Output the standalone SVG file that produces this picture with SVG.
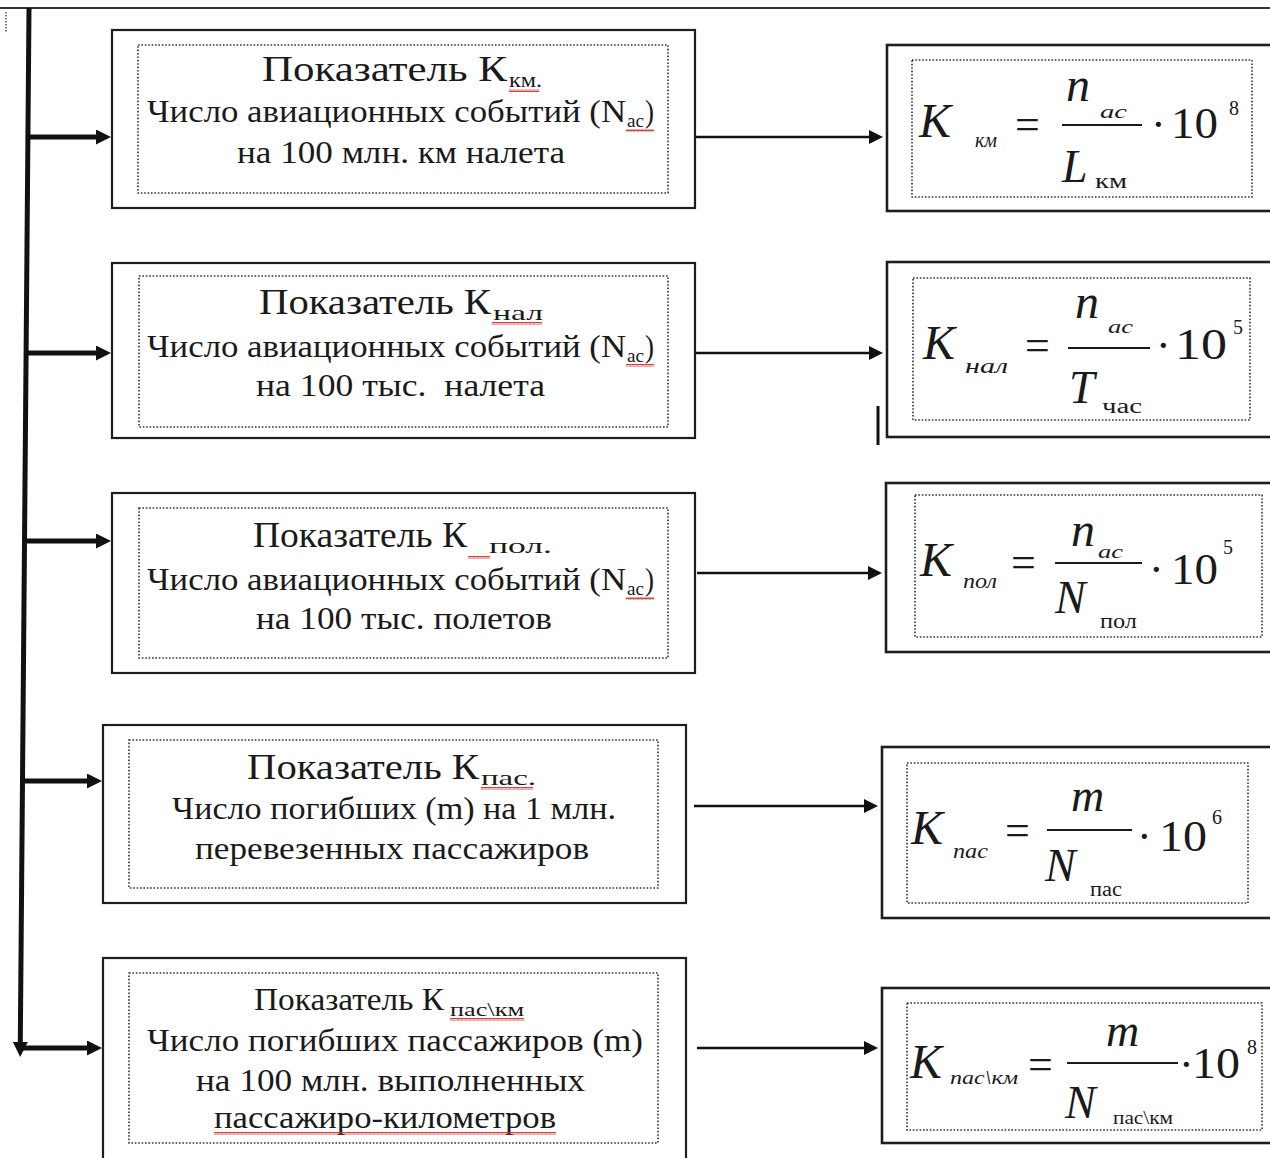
<svg xmlns="http://www.w3.org/2000/svg" width="1270" height="1158" viewBox="0 0 1270 1158">
<style>
text{font-family:"Liberation Serif","Times New Roman",serif;fill:#1a1a1a}
.t{font-size:36px}
.b{font-size:32px}
.s{font-size:21px}
.bx{fill:#fff;stroke:#1e1e1e;stroke-width:2.2}
.fb{fill:#fff;stroke:#1e1e1e;stroke-width:2.6}
.dt{fill:none;stroke:#333;stroke-width:1.6;stroke-dasharray:1.6 1.8}
.i{font-style:italic}
.fK{font-size:48px;font-style:italic}
.fn{font-size:48px;font-style:italic}
.fs{font-size:20px}
.fo{font-size:44px}
.fp{font-size:20px}
.bar{stroke:#1a1a1a;stroke-width:2}
.thick{stroke:#111;stroke-width:5;fill:none}
.thin{stroke:#111;stroke-width:2.5;fill:none}
</style>
<defs>
<marker id="ah" viewBox="0 0 10 10" refX="0" refY="5" markerUnits="userSpaceOnUse" markerWidth="16" markerHeight="15" orient="auto"><path d="M0,0 L10,5 L0,10 z" fill="#111"/></marker>
<marker id="ahs" viewBox="0 0 10 10" refX="0" refY="5" markerUnits="userSpaceOnUse" markerWidth="18" markerHeight="14" orient="auto"><path d="M0,0 L10,5 L0,10 z" fill="#111"/></marker>
<pattern id="wv" width="4" height="3" patternUnits="userSpaceOnUse"><path d="M0,2.5 L1,0.5 L2,2.5 L3,0.5 L4,2.5" fill="none" stroke="#d02a2a" stroke-width="0.9"/></pattern>
</defs>
<rect width="1270" height="1158" fill="#fff"/>
<line x1="0" y1="8" x2="1270" y2="8" stroke="#333" stroke-width="2"/>
<line x1="6" y1="12" x2="6" y2="32" stroke="#555" stroke-width="1.5" stroke-dasharray="1.5 1.5"/>
<line x1="878" y1="406" x2="878" y2="445" stroke="#111" stroke-width="3"/>

<g id="connectors">
<line class="thick" x1="29" y1="8" x2="20.3" y2="1042" marker-end="url(#ah)"/>
<line class="thick" x1="28" y1="137" x2="96" y2="137" marker-end="url(#ah)"/>
<line class="thick" x1="26" y1="353" x2="96" y2="353" marker-end="url(#ah)"/>
<line class="thick" x1="24.5" y1="541" x2="96" y2="541" marker-end="url(#ah)"/>
<line class="thick" x1="22.3" y1="781" x2="87" y2="781" marker-end="url(#ah)"/>
<line class="thick" x1="20" y1="1048" x2="87" y2="1048" marker-end="url(#ah)"/>
<line class="thin" x1="695" y1="137" x2="869" y2="137" marker-end="url(#ahs)"/>
<line class="thin" x1="696" y1="353" x2="869" y2="353" marker-end="url(#ahs)"/>
<line class="thin" x1="697" y1="573" x2="868" y2="573" marker-end="url(#ahs)"/>
<line class="thin" x1="694" y1="806" x2="864" y2="806" marker-end="url(#ahs)"/>
<line class="thin" x1="697" y1="1048" x2="864" y2="1048" marker-end="url(#ahs)"/>
</g>

<g id="node-kkm">
<rect class="bx" x="112" y="30" width="583" height="178"/>
<rect class="dt" x="138" y="45" width="530" height="148"/>
<text class="t" x="262" y="81" textLength="245" lengthAdjust="spacingAndGlyphs">Показатель К</text>
<text class="s" x="509" y="87" textLength="33" lengthAdjust="spacingAndGlyphs">км.</text>
<rect x="509" y="89" width="30" height="3" fill="url(#wv)"/>
<text class="b" x="147" y="122" textLength="479" lengthAdjust="spacingAndGlyphs">Число авиационных событий (N</text>
<text class="s" x="627" y="127" style="font-size:18px" textLength="17" lengthAdjust="spacingAndGlyphs">ас</text>
<text class="b" x="645" y="122" textLength="9" lengthAdjust="spacingAndGlyphs">)</text>
<rect x="626" y="129" width="28" height="3" fill="url(#wv)"/>
<text class="b" x="237" y="163" textLength="328" lengthAdjust="spacingAndGlyphs">на 100 млн. км налета</text>
</g>

<g id="node-knal">
<rect class="bx" x="112" y="263" width="583" height="175"/>
<rect class="dt" x="139" y="276" width="529" height="151"/>
<text class="t" x="259" y="314" textLength="232" lengthAdjust="spacingAndGlyphs">Показатель К</text>
<text class="s" x="493" y="320" textLength="50" lengthAdjust="spacingAndGlyphs">нал</text>
<rect x="492" y="322" width="50" height="3" fill="url(#wv)"/>
<text class="b" x="147" y="357" textLength="479" lengthAdjust="spacingAndGlyphs">Число авиационных событий (N</text>
<text class="s" x="627" y="362" style="font-size:18px" textLength="17" lengthAdjust="spacingAndGlyphs">ас</text>
<text class="b" x="645" y="357" textLength="9" lengthAdjust="spacingAndGlyphs">)</text>
<rect x="626" y="364" width="28" height="3" fill="url(#wv)"/>
<text class="b" x="256" y="396" textLength="289" lengthAdjust="spacingAndGlyphs" xml:space="preserve">на 100 тыс.  налета</text>
</g>

<g id="node-kpol">
<rect class="bx" x="112" y="493" width="583" height="180"/>
<rect class="dt" x="139" y="508" width="529" height="150"/>
<text class="t" x="253" y="547" textLength="214" lengthAdjust="spacingAndGlyphs">Показатель К</text>
<text class="s" x="489" y="553" textLength="63" lengthAdjust="spacingAndGlyphs">пол.</text>
<rect x="468" y="556" width="22" height="3" fill="url(#wv)"/>
<text class="b" x="147" y="590" textLength="479" lengthAdjust="spacingAndGlyphs">Число авиационных событий (N</text>
<text class="s" x="627" y="595" style="font-size:18px" textLength="17" lengthAdjust="spacingAndGlyphs">ас</text>
<text class="b" x="645" y="590" textLength="9" lengthAdjust="spacingAndGlyphs">)</text>
<rect x="626" y="597" width="28" height="3" fill="url(#wv)"/>
<text class="b" x="256" y="629" textLength="296" lengthAdjust="spacingAndGlyphs">на 100 тыс. полетов</text>
</g>

<g id="node-kpas">
<rect class="bx" x="103" y="725" width="583" height="178"/>
<rect class="dt" x="129" y="740" width="529" height="148"/>
<text class="t" x="247" y="779" textLength="232" lengthAdjust="spacingAndGlyphs">Показатель К</text>
<text class="s" x="481" y="785" textLength="55" lengthAdjust="spacingAndGlyphs">пас.</text>
<rect x="481" y="787" width="52" height="3" fill="url(#wv)"/>
<text class="b" x="172" y="819" textLength="444" lengthAdjust="spacingAndGlyphs">Число погибших (m) на 1 млн.</text>
<text class="b" x="195" y="859" textLength="394" lengthAdjust="spacingAndGlyphs">перевезенных пассажиров</text>
</g>

<g id="node-kpaskm">
<rect class="bx" x="103" y="958" width="583" height="215"/>
<rect class="dt" x="129" y="973" width="529" height="170"/>
<text class="t" x="254" y="1010" style="font-size:31px" textLength="190" lengthAdjust="spacingAndGlyphs">Показатель К</text>
<text class="s" x="450" y="1016" style="font-size:18px" textLength="74" lengthAdjust="spacingAndGlyphs">пас\км</text>
<rect x="450" y="1018" width="74" height="3" fill="url(#wv)"/>
<text class="b" x="147" y="1051" textLength="496" lengthAdjust="spacingAndGlyphs">Число погибших пассажиров (m)</text>
<text class="b" x="196" y="1091" textLength="389" lengthAdjust="spacingAndGlyphs">на 100 млн. выполненных</text>
<text class="b" x="214" y="1128" textLength="342" lengthAdjust="spacingAndGlyphs">пассажиро-километров</text>
<rect x="214" y="1132" width="342" height="3" fill="url(#wv)"/>
</g>

<g id="formula-kkm">
<rect class="fb" x="887" y="45" width="390" height="166"/>
<rect class="dt" x="912" y="60" width="340" height="137"/>
<text class="fK" x="919" y="137">K</text>
<text class="fs i" x="975" y="147" textLength="22" lengthAdjust="spacingAndGlyphs">км</text>
<text class="fo" x="1015" y="139">=</text>
<text class="fn" x="1066" y="101">n</text>
<text class="fs i" x="1100" y="118" style="font-size:18px" textLength="27" lengthAdjust="spacingAndGlyphs">ас</text>
<line class="bar" x1="1062" y1="125" x2="1142" y2="125"/>
<text class="fn" x="1062" y="182" style="font-size:46px">L</text>
<text class="fs" x="1095" y="188" textLength="32" lengthAdjust="spacingAndGlyphs">км</text>
<text class="fo" x="1151" y="139">·</text>
<text class="fo" x="1171" y="138" textLength="47" lengthAdjust="spacingAndGlyphs">10</text>
<text class="fp" x="1229" y="115">8</text>
</g>

<g id="formula-knal">
<rect class="fb" x="887" y="262" width="390" height="175"/>
<rect class="dt" x="913" y="278" width="337" height="142"/>
<text class="fK" x="923" y="359">K</text>
<text class="fs i" x="965" y="373" textLength="43" lengthAdjust="spacingAndGlyphs">нал</text>
<text class="fo" x="1025" y="360">=</text>
<text class="fn" x="1075" y="318">n</text>
<text class="fs i" x="1108" y="333" style="font-size:18px" textLength="25" lengthAdjust="spacingAndGlyphs">ас</text>
<line class="bar" x1="1068" y1="348" x2="1150" y2="348"/>
<text class="fn" x="1069" y="403" style="font-size:46px">T</text>
<text class="fs" x="1102" y="413" textLength="40" lengthAdjust="spacingAndGlyphs">час</text>
<text class="fo" x="1156" y="360">·</text>
<text class="fo" x="1175" y="359" textLength="52" lengthAdjust="spacingAndGlyphs">10</text>
<text class="fp" x="1233" y="334">5</text>
</g>

<g id="formula-kpol">
<rect class="fb" x="886" y="483" width="390" height="169"/>
<rect class="dt" x="915" y="495" width="347" height="142"/>
<text class="fK" x="920" y="576">K</text>
<text class="fs i" x="963" y="588" textLength="34" lengthAdjust="spacingAndGlyphs">пол</text>
<text class="fo" x="1011" y="577">=</text>
<text class="fn" x="1071" y="546">n</text>
<text class="fs i" x="1098" y="558" style="font-size:18px" textLength="25" lengthAdjust="spacingAndGlyphs">ас</text>
<line class="bar" x1="1055" y1="563" x2="1142" y2="563"/>
<text class="fn" x="1055" y="613" style="font-size:46px">N</text>
<text class="fs" x="1100" y="628" textLength="37" lengthAdjust="spacingAndGlyphs">пол</text>
<text class="fo" x="1149" y="584">·</text>
<text class="fo" x="1171" y="584" textLength="47" lengthAdjust="spacingAndGlyphs">10</text>
<text class="fp" x="1223" y="554">5</text>
</g>

<g id="formula-kpas">
<rect class="fb" x="882" y="747" width="395" height="171"/>
<rect class="dt" x="907" y="763" width="341" height="140"/>
<text class="fK" x="911" y="844">K</text>
<text class="fs i" x="953" y="858" textLength="35" lengthAdjust="spacingAndGlyphs">пас</text>
<text class="fo" x="1005" y="845">=</text>
<text class="fn" x="1071" y="811" style="font-size:46px">m</text>
<line class="bar" x1="1047" y1="830" x2="1132" y2="830"/>
<text class="fn" x="1045" y="881" style="font-size:46px">N</text>
<text class="fs" x="1090" y="896" textLength="32" lengthAdjust="spacingAndGlyphs">пас</text>
<text class="fo" x="1137" y="851">·</text>
<text class="fo" x="1159" y="851" textLength="48" lengthAdjust="spacingAndGlyphs">10</text>
<text class="fp" x="1212" y="824">6</text>
</g>

<g id="formula-kpaskm">
<rect class="fb" x="882" y="988" width="395" height="155"/>
<rect class="dt" x="907" y="1003" width="355" height="127"/>
<text class="fK" x="910" y="1078">K</text>
<text class="fs i" x="950" y="1084" style="font-size:19px" textLength="68" lengthAdjust="spacingAndGlyphs">пас\км</text>
<text class="fo" x="1028" y="1079">=</text>
<text class="fn" x="1106" y="1046" style="font-size:46px">m</text>
<line class="bar" x1="1067" y1="1063" x2="1178" y2="1063"/>
<text class="fn" x="1065" y="1118" style="font-size:46px">N</text>
<text class="fs" x="1113" y="1124" style="font-size:19px" textLength="60" lengthAdjust="spacingAndGlyphs">пас\км</text>
<text class="fo" x="1179" y="1079">·</text>
<text class="fo" x="1192" y="1078" textLength="48" lengthAdjust="spacingAndGlyphs">10</text>
<text class="fp" x="1247" y="1054">8</text>
</g>
</svg>
